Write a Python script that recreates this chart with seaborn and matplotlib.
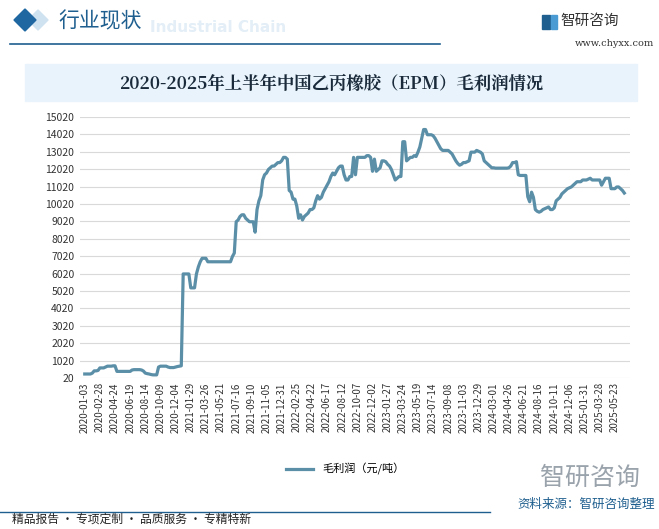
import matplotlib
matplotlib.use("Agg")
import matplotlib.pyplot as plt
import seaborn as sns
import numpy as np
import pandas as pd
from matplotlib.patches import Rectangle, Polygon

plt.rcParams['font.family'] = ['Noto Sans CJK SC', 'DejaVu Sans']

# tick labels, one every 8 data points
tick_labels = [
    '2020-01-03', '2020-02-28', '2020-04-24', '2020-06-19', '2020-08-14', '2020-10-09', '2020-12-04',
    '2021-01-29', '2021-03-26', '2021-05-21', '2021-07-16', '2021-09-10', '2021-11-05', '2021-12-31',
    '2022-02-25', '2022-04-22', '2022-06-17', '2022-08-12', '2022-10-07', '2022-12-02',
    '2023-01-27', '2023-03-24', '2023-05-19', '2023-07-14', '2023-09-08', '2023-11-03', '2023-12-29',
    '2024-03-01', '2024-04-26', '2024-06-21', '2024-08-16', '2024-10-11', '2024-12-06',
    '2025-01-31', '2025-03-28', '2025-05-23',
]

# gross profit, yuan/ton
profit = [
    250, 250, 250, 250, 300, 430, 430, 450,
    600, 600, 600, 650, 700, 700, 700, 720,
    720, 400, 400, 400, 400, 400, 400, 400,
    400, 480, 500, 500, 500, 500, 480, 420,
    300, 270, 250, 220, 200, 200, 200, 650,
    700, 700, 700, 700, 650, 620, 620, 620,
    650, 680, 700, 720, 6000, 6000, 6000, 6000,
    5200, 5200, 5200, 6000, 6400, 6700, 6900, 6900,
    6900, 6700, 6700, 6700, 6700, 6700, 6700, 6700,
    6700, 6700, 6700, 6700, 6700, 6700, 7000, 7200,
    9000, 9100, 9300, 9400, 9400, 9200, 9100, 9000,
    9000, 9000, 8400, 9700, 10200, 10500, 11400, 11700,
    11800, 12000, 12100, 12200, 12200, 12300, 12400, 12400,
    12500, 12700, 12700, 12600, 10800, 10700, 10300, 10300,
    9900, 9200, 9400, 9100, 9300, 9400, 9500, 9700,
    9700, 9800, 10200, 10500, 10300, 10400, 10700, 10900,
    11100, 11300, 11600, 11800, 11700, 11900, 12100, 12200,
    12200, 11700, 11400, 11400, 11600, 11600, 12700, 11700,
    12700, 12700, 12700, 12700, 12700, 12800, 12800, 12700,
    11900, 12600, 11900, 12000, 12100, 12500, 12500, 12450,
    12300, 12200, 12000, 11700, 11400, 11500, 11600, 11600,
    13600, 13600, 12500, 12600, 12700, 12700, 12800, 12750,
    13000, 13300, 13800, 14300, 14300, 14000, 14000, 14000,
    13950, 13800, 13600, 13400, 13200, 13100, 13100, 13100,
    13100, 13000, 12900, 12700, 12500, 12350, 12250, 12300,
    12400, 12400, 12450, 12500, 13000, 13000, 13000, 13100,
    13050, 13000, 12900, 12500, 12400, 12300, 12200, 12100,
    12100, 12080, 12080, 12080, 12080, 12080, 12080, 12080,
    12100, 12200, 12400, 12400, 12450, 11700, 11660, 11660,
    11660, 11660, 10440, 10150, 10700, 10400, 9700, 9600,
    9550, 9600, 9700, 9750, 9800, 9850, 9700, 9700,
    9800, 10200, 10300, 10400, 10600, 10700, 10800, 10900,
    10950, 11000, 11100, 11200, 11300, 11300, 11300, 11400,
    11400, 11400, 11450, 11500, 11400, 11400, 11400, 11400,
    11400, 11100, 11300, 11500, 11500, 11500, 10900, 10900,
    10900, 11000, 11000, 10900, 10800, 10650,
]

df = pd.DataFrame({'idx': np.arange(len(profit)), 'profit': profit})

W, H = 659, 529
fig = plt.figure(figsize=(W / 100, H / 100), dpi=100)
fig.patch.set_facecolor('white')

def fx(px):
    return px / W

def fy(py):
    return 1 - py / H

# header
fig.patches.append(Polygon([[fx(28), fy(20)], [fx(38), fy(10)], [fx(48), fy(20)], [fx(38), fy(30)]],
                           closed=True, transform=fig.transFigure, color='#cfe2f0', zorder=1))
fig.patches.append(Polygon([[fx(14), fy(20)], [fx(25), fy(9)], [fx(36), fy(20)], [fx(25), fy(31)]],
                           closed=True, transform=fig.transFigure, color='#1f67a0', zorder=2))
fig.text(fx(150), fy(27), 'Industrial Chain', fontsize=11, fontweight='bold', color='#e3eef7',
         ha='left', va='center', family='DejaVu Sans')
fig.text(fx(58), fy(21), '行业现状', fontsize=15, color='#1f5f8f', ha='left', va='center')
fig.lines.append(plt.Line2D([fx(10), fx(440)], [fy(44), fy(44)], transform=fig.transFigure,
                            color='#1f5f8f', lw=1.2))
fig.patches.append(Rectangle((fx(542), fy(29)), 8 / W, 14 / H, transform=fig.transFigure,
                             color='#1f5f8f', zorder=2))
fig.patches.append(Rectangle((fx(551), fy(29)), 6 / W, 14 / H, transform=fig.transFigure,
                             color='#4a9ad4', zorder=2))
fig.text(fx(560), fy(21), '智研咨询', fontsize=10.5, color='#333333', ha='left', va='center')
fig.text(fx(654), fy(44), 'www.chyxx.com', fontsize=7, color='#333333', ha='right', va='center',
         family='DejaVu Serif')

# title box
fig.patches.append(Rectangle((fx(25), fy(101)), fx(612), 37 / H, transform=fig.transFigure,
                             color='#e8f3fb', zorder=0))
fig.text(fx(331), fy(84), '2020-2025年上半年中国乙丙橡胶（EPM）毛利润情况', fontsize=12.5,
         fontweight='bold', color='#1a2a3a', ha='center', va='center', family='Noto Serif CJK SC')

# plot area
ax = fig.add_axes([fx(80), fy(378), fx(550), (378 - 117) / H])
ax.set_facecolor('none')
sns.lineplot(data=df, x='idx', y='profit', ax=ax, color='#5b8fa8', lw=2.3, label='毛利润（元/吨）',
             clip_on=False)
ax.set_ylim(20, 15020)
ax.set_yticks(np.arange(20, 15021, 1000))
ax.set_xlim(-2.5, 288)
ax.set_xticks(np.arange(len(tick_labels)) * 8)
ax.set_xticklabels(tick_labels, rotation=90, fontsize=7, color='#333333')
ax.tick_params(axis='y', labelsize=7.5, colors='#333333', length=0, pad=4)
ax.tick_params(axis='x', length=0, pad=3)
ax.grid(axis='y', color='#d9d9d9', lw=0.8)
ax.grid(axis='x', visible=False)
for s in ax.spines.values():
    s.set_visible(False)
ax.set_xlabel('')
ax.set_ylabel('')
ax.legend(loc='center', bbox_to_anchor=(fx(345), fy(469)), bbox_transform=fig.transFigure,
          frameon=False, fontsize=8, handlelength=2.5)

# footer
fig.text(fx(640), fy(478), '智研咨询', fontsize=18, color='#9aa3ab', ha='right', va='center')
fig.lines.append(plt.Line2D([fx(0), fx(490)], [fy(512), fy(512)], transform=fig.transFigure,
                            color='#1f5f8f', lw=1.0))
fig.text(fx(655), fy(504), '资料来源：智研咨询整理', fontsize=9, color='#1f5f8f', ha='right', va='center')
fig.text(fx(12), fy(519), '精品报告 · 专项定制 · 品质服务 · 专精特新', fontsize=8.5, color='#222222',
         ha='left', va='center')

fig.savefig('out.png', dpi=100)
